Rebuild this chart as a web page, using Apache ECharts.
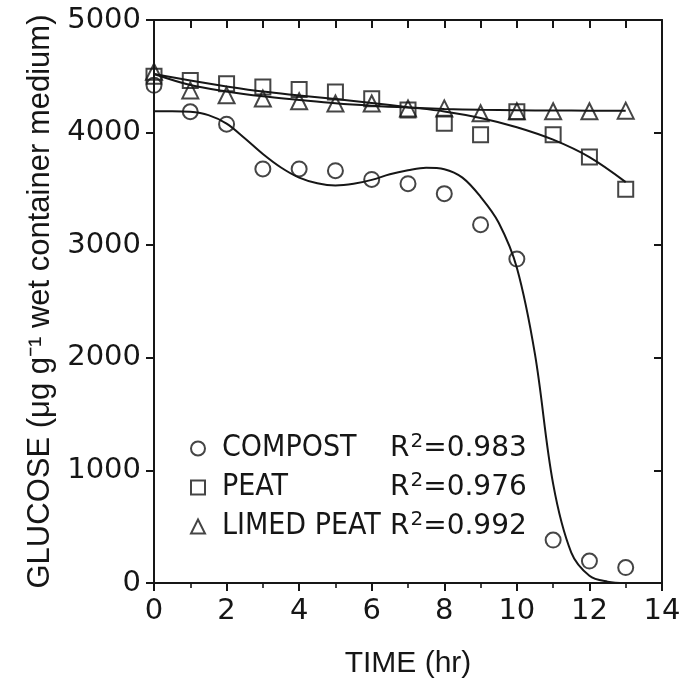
<!DOCTYPE html>
<html>
<head>
<meta charset="utf-8">
<script src="https://cdn.jsdelivr.net/npm/echarts@6/dist/echarts.min.js"></script>
<style>
  html, body { margin: 0; padding: 0; background: #fff; }
  #chart { width: 684px; height: 684px; }
</style>
</head>
<body>
<div id="chart"></div>
<script>
// ---- data ----
const timeHours = [0, 1, 2, 3, 4, 5, 6, 7, 8, 9, 10, 11, 12, 13];
const compostGlucose   = [4420, 4185, 4075, 3677, 3677, 3662, 3584, 3546, 3458, 3182, 2877, 381, 195, 137];
const peatGlucose      = [4500, 4462, 4433, 4404, 4383, 4360, 4300, 4200, 4084, 3982, 4186, 3982, 3784, 3497];
const limedPeatGlucose = [4540, 4375, 4331, 4302, 4279, 4258, 4258, 4215, 4215, 4172, 4190, 4190, 4190, 4195];

// fitted curves (every half hour)
const compostFitTime = [0, 0.5, 1, 1.5, 2, 2.5, 3, 3.5, 4, 4.5, 5, 5.5, 6, 6.5, 7, 7.5, 8, 8.5, 9, 9.5, 10, 10.5, 11, 11.5, 12, 12.5, 13];
const compostFit     = [4190, 4190, 4185, 4155, 4080, 3950, 3810, 3690, 3600, 3550, 3530, 3545, 3580, 3630, 3665, 3688, 3675, 3600, 3430, 3200, 2800, 2030, 880, 270, 65, 12, 0];
const peatFit        = [4520, 4462, 4410, 4364, 4330, 4298, 4262, 4226, 4188, 4130, 4048, 3937, 3782, 3560];
const limedPeatFit   = [4520, 4422, 4365, 4322, 4290, 4260, 4238, 4222, 4210, 4202, 4198, 4196, 4195, 4195];

const seriesNames = ['COMPOST', 'PEAT', 'LIMED PEAT'];
const rSquared = ['0.983', '0.976', '0.992'];

const xTicks = [0, 2, 4, 6, 8, 10, 12, 14];
const yTicks = [0, 1000, 2000, 3000, 4000, 5000];

// ---- chart ----
const INK = '#161616';
const NARROW = '"Liberation Sans Narrow", "DejaVu Sans Condensed", "Liberation Sans", sans-serif';
const SANS = '"Liberation Sans", Arial, sans-serif';
const DIGITS = '"DejaVu Sans", sans-serif';

const pairs = (xs, ys) => xs.map((x, i) => [x, ys[i]]);

const markerStyle = { color: 'rgba(255,255,255,0)', borderColor: INK, borderWidth: 2 };

const chart = echarts.init(document.getElementById('chart'), null, { renderer: 'canvas' });

chart.setOption({
  backgroundColor: '#fff',
  animation: false,
  grid: { left: 154, right: 22, top: 20, bottom: 91, containLabel: false },
  xAxis: [
    {
      type: 'value', position: 'bottom',
      min: xTicks[0], max: xTicks[xTicks.length - 1], interval: 2,
      name: 'TIME (hr)', nameLocation: 'middle', nameGap: 66,
      nameTextStyle: { fontFamily: SANS, fontSize: 30, color: INK },
      axisLine: { show: true, onZero: false, lineStyle: { color: INK, width: 2 } },
      axisTick: { show: true, inside: false, length: 8, lineStyle: { color: INK, width: 2 } },
      minorTick: { show: true, splitNumber: 2, length: 5, lineStyle: { color: INK, width: 1.6 } },
      axisLabel: { fontFamily: DIGITS, fontSize: 29, color: INK, margin: 14, formatter: v => String(v) },
      splitLine: { show: false }
    },
    {
      type: 'value', position: 'top',
      min: 0, max: 14, interval: 1,
      axisLine: { show: true, onZero: false, lineStyle: { color: INK, width: 2 } },
      axisTick: { show: true, inside: true, length: 8, lineStyle: { color: INK, width: 2 } },
      axisLabel: { show: false },
      splitLine: { show: false }
    }
  ],
  yAxis: [
    {
      type: 'value', position: 'left',
      min: yTicks[0], max: yTicks[yTicks.length - 1], interval: 1000,
      name: 'GLUCOSE (\u03bcg g\u207b\u00b9 wet container medium)',
      nameLocation: 'middle', nameGap: 93,
      nameTextStyle: { fontFamily: SANS, fontSize: 31, color: INK },
      axisLine: { show: true, onZero: false, lineStyle: { color: INK, width: 2 } },
      axisTick: { show: true, inside: false, length: 8, lineStyle: { color: INK, width: 2 } },
      axisLabel: { fontFamily: DIGITS, fontSize: 29, color: INK, margin: 13, formatter: v => String(v) },
      splitLine: { show: false }
    },
    {
      type: 'value', position: 'right',
      min: 0, max: 5000, interval: 1000,
      axisLine: { show: true, onZero: false, lineStyle: { color: INK, width: 2 } },
      axisTick: { show: true, inside: true, length: 8, lineStyle: { color: INK, width: 2 } },
      axisLabel: { show: false },
      splitLine: { show: false }
    }
  ],
  legend: {
    data: seriesNames,
    orient: 'vertical',
    left: 185, top: 427,
    itemWidth: 14, itemHeight: 14, itemGap: 6,
    selectedMode: false,
    formatter: function (name) {
      const i = seriesNames.indexOf(name);
      return '{n|' + name + '}{r|R}{s|2}{v|=' + rSquared[i] + '}';
    },
    textStyle: {
      color: INK,
      padding: [0, 0, 0, 12],
      rich: {
        n: { fontFamily: NARROW, fontSize: 30, color: INK, width: 168, lineHeight: 31 },
        r: { fontFamily: DIGITS, fontSize: 28, color: INK, lineHeight: 31 },
        s: { fontFamily: DIGITS, fontSize: 20, color: INK, lineHeight: 20, padding: [0, 0, 13, 1] },
        v: { fontFamily: DIGITS, fontSize: 28, color: INK, lineHeight: 31 }
      }
    }
  },
  series: [
    {
      name: 'compost fit', type: 'line',
      data: pairs(compostFitTime, compostFit),
      showSymbol: false, smooth: 0.35,
      lineStyle: { color: INK, width: 2 }, z: 2, silent: true
    },
    {
      name: 'peat fit', type: 'line',
      data: pairs(timeHours, peatFit),
      showSymbol: false, smooth: 0.35,
      lineStyle: { color: INK, width: 2 }, z: 2, silent: true
    },
    {
      name: 'limed peat fit', type: 'line',
      data: pairs(timeHours, limedPeatFit),
      showSymbol: false, smooth: 0.35,
      lineStyle: { color: INK, width: 2 }, z: 2, silent: true
    },
    {
      name: seriesNames[0], type: 'scatter',
      data: pairs(timeHours, compostGlucose),
      symbol: 'circle', symbolSize: 15, itemStyle: markerStyle, z: 3
    },
    {
      name: seriesNames[1], type: 'scatter',
      data: pairs(timeHours, peatGlucose),
      symbol: 'rect', symbolSize: 15, itemStyle: markerStyle, z: 3
    },
    {
      name: seriesNames[2], type: 'scatter',
      data: pairs(timeHours, limedPeatGlucose),
      symbol: 'triangle', symbolSize: 16, itemStyle: markerStyle, z: 3
    }
  ]
});
</script>
</body>
</html>
